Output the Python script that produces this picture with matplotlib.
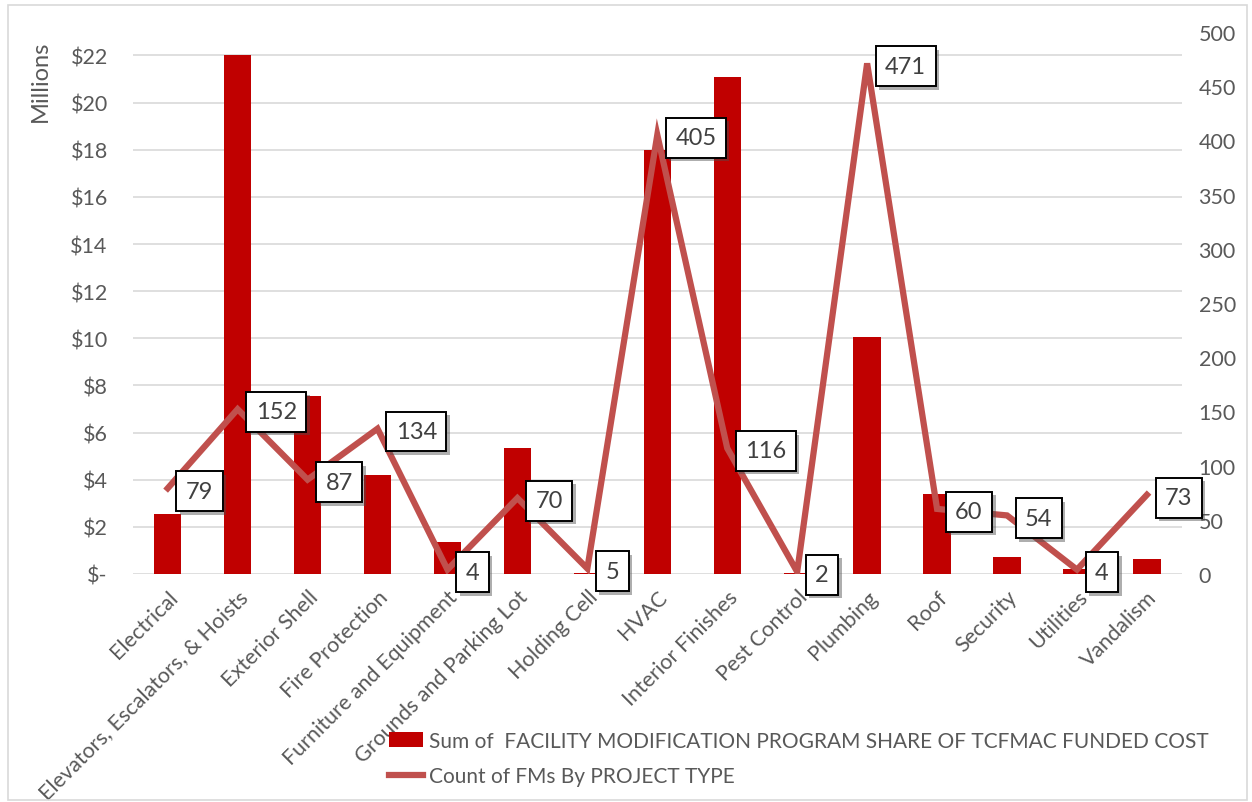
import matplotlib.pyplot as plt
import matplotlib.patheffects as pe
from matplotlib.patches import Rectangle

categories = ["Electrical", "Elevators, Escalators, & Hoists", "Exterior Shell",
              "Fire Protection", "Furniture and Equipment", "Grounds and Parking Lot",
              "Holding Cell", "HVAC", "Interior Finishes", "Pest Control", "Plumbing",
              "Roof", "Security", "Utilities", "Vandalism"]
cost_millions = [2.55, 22.0, 7.56, 4.2, 1.36, 5.35, 0.05, 18.0, 21.1, 0.03, 10.06,
                 3.4, 0.72, 0.2, 0.64]
fm_counts = [79, 152, 87, 134, 4, 70, 5, 405, 116, 2, 471, 60, 54, 4, 73]

left_ticks = list(range(0, 23, 2))
left_labels = ["$-"] + ["$" + str(v) for v in left_ticks[1:]]
right_ticks = list(range(0, 501, 50))

bar_label = "Sum of  FACILITY MODIFICATION PROGRAM SHARE OF TCFMAC FUNDED COST"
line_label = "Count of FMs By PROJECT TYPE"

plt.rcParams['font.family'] = ['Lato', 'DejaVu Sans']
grey = "#595959"

fig = plt.figure(figsize=(12.52, 8.03), dpi=100)
fig.patches.append(Rectangle((0.006, 0.003), 0.99, 0.99, transform=fig.transFigure,
                             fill=False, edgecolor="#d9d9d9", linewidth=1.2))

ax = fig.add_axes([0.106, 0.284, 0.838, 0.675])
x = list(range(len(categories)))
bars = ax.bar(x, cost_millions, width=0.39, color="#C00000", label=bar_label, zorder=2)
ax.set_xlim(-0.5, len(categories) - 0.5)
ax.set_ylim(0, 23.0)
ax.set_yticks(left_ticks)
ax.set_yticklabels(left_labels)
ax.yaxis.grid(True, color="#d9d9d9", linewidth=1.2, zorder=0)
ax.set_axisbelow(True)
ax.set_xticks(x)
ax.set_xticklabels(categories, rotation=45, ha="right", rotation_mode="anchor")
ax.tick_params(axis="x", length=0, labelsize=15.5, colors=grey, pad=9)
ax.tick_params(axis="y", length=0, labelsize=15.5, colors=grey, pad=18)
ax.set_ylabel("Millions", fontsize=17, color=grey, loc="top")
ax.yaxis.set_label_coords(-0.078, 0.985)
for s in ax.spines.values():
    s.set_visible(False)

ax2 = ax.twinx()
line, = ax2.plot(x, fm_counts, color="#C0504D", linewidth=4.5, label=line_label,
                 solid_joinstyle="miter", zorder=3)
ax2.set_ylim(0, 500)
ax2.set_yticks(right_ticks)
ax2.tick_params(length=0, labelsize=15.5, colors=grey, pad=12)
for s in ax2.spines.values():
    s.set_visible(False)

for xi, v in zip(x, fm_counts):
    t = ax2.annotate(str(v), (xi, v), xytext=(13, -2), textcoords="offset points",
                     ha="left", va="center", fontsize=17, color="#404040",
                     bbox=dict(boxstyle="square,pad=0.4", fc="white", ec="black", lw=1.4),
                     zorder=5)
    t.get_bbox_patch().set_path_effects([pe.SimplePatchShadow(offset=(2.5, -2.5), alpha=0.45),
                                         pe.Normal()])

fig.legend(handles=[bars, line], labels=[bar_label, line_label], loc="lower left",
           bbox_to_anchor=(0.296, -0.004), frameon=False, fontsize=15, labelcolor=grey,
           handlelength=1.6, handletextpad=0.3, labelspacing=0.75)

fig.savefig("out.png", dpi=100)
